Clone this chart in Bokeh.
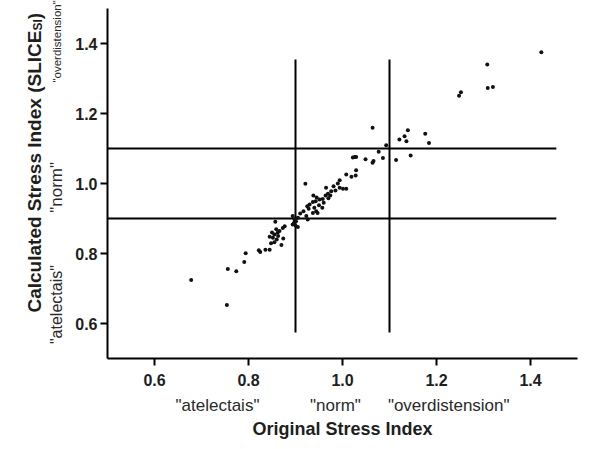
import numpy as np
from bokeh.plotting import figure
from bokeh.layouts import row
from bokeh.models import FixedTicker, Range1d, LinearAxis
from bokeh.core.properties import value
from bokeh.embed import file_html
from bokeh.resources import INLINE

# ---- data ----
x_orig = [0.678, 0.754, 0.756, 0.774, 0.791, 0.794, 0.822, 0.825, 0.836, 0.845, 0.870,
          0.848, 0.855, 0.860, 0.852, 0.845, 0.855, 0.862, 0.859, 0.866, 0.873, 0.877, 0.857, 0.874, 0.850, 0.863,
          0.894, 0.898, 0.901, 0.905, 0.900, 0.905, 0.894, 0.910, 0.917, 0.923, 0.926, 0.897,
          0.921,
          0.930, 0.937, 0.940, 0.944, 0.937, 0.947, 0.957, 0.938, 0.943, 0.951, 0.958, 0.964, 0.969, 0.974,
          0.965, 0.976, 0.981, 0.994, 1.001, 1.008, 0.994, 1.008, 1.019, 1.028, 1.029, 0.928, 0.950, 0.960,
          0.985, 0.925, 0.945, 0.970, 0.990,
          1.026, 1.022, 1.029, 1.049, 1.066, 1.064, 1.077, 1.086, 1.093, 1.064, 1.114, 1.145, 1.121, 1.132,
          1.136, 1.139, 1.176, 1.184,
          1.248, 1.252, 1.308, 1.309, 1.320, 1.423]
y_calc = [0.724, 0.653, 0.756, 0.749, 0.776, 0.801, 0.809, 0.804, 0.811, 0.811, 0.824,
          0.829, 0.832, 0.840, 0.845, 0.848, 0.854, 0.859, 0.869, 0.864, 0.873, 0.878, 0.891, 0.843, 0.860, 0.850,
          0.907, 0.897, 0.892, 0.902, 0.880, 0.876, 0.883, 0.914, 0.921, 0.907, 0.897, 0.888,
          0.999,
          0.940, 0.947, 0.931, 0.921, 0.916, 0.916, 0.931, 0.966, 0.949, 0.954, 0.956, 0.966, 0.971, 0.966,
          0.988, 0.978, 0.992, 0.988, 0.985, 0.985, 1.009, 1.026, 1.019, 1.023, 1.038, 0.928, 0.938, 0.945,
          0.980, 0.935, 0.960, 0.958, 1.000,
          1.076, 1.074, 1.076, 1.069, 1.064, 1.059, 1.091, 1.073, 1.109, 1.159, 1.067, 1.080, 1.126, 1.135,
          1.121, 1.152, 1.142, 1.116,
          1.251, 1.261, 1.340, 1.273, 1.276, 1.375]

tick_values = [0.6, 0.8, 1.0, 1.2, 1.4]
tick_labels = ["0.6", "0.8", "1.0", "1.2", "1.4"]

thresholds = [0.9, 1.1]
vline_extent = [0.574, 1.354]   # y extent of vertical threshold lines
hline_extent = [0.5, 1.455]     # x extent of horizontal threshold lines

categories = ['"atelectais"', '"norm"', '"overdistension"']
x_category_pos = [0.734, 0.985, 1.226]
y_category_pos = [0.654, 0.989, 1.406]

x_title = "Original Stress Index"
y_title_parts = ["Calculated Stress Index (SLICE", "SI", ")"]

FONT = "Liberation Sans"
INK = "#1e1e1e"
CAT_INK = "#2a2a2a"

W_TOTAL, H_TOTAL = 592, 441
W_SIDE = 68          # width of the left strip holding the rotated y texts
BORDER_BOTTOM = 83
Y_RANGE = (0.5, 1.5 + 8 / 350)   # a little headroom above 1.5 for the texts

# ---------------- left strip: rotated y title and y category labels -------------
side = figure(width=W_SIDE, height=H_TOTAL, x_range=Range1d(1, W_SIDE + 1),
              y_range=Range1d(*Y_RANGE),
              output_backend="svg", toolbar_location=None,
              x_axis_location=None, y_axis_location=None,
              min_border_left=0, min_border_right=0, min_border_top=0,
              min_border_bottom=BORDER_BOTTOM)
side.outline_line_color = None
side.grid.visible = False

# y title: main text, subscript, closing parenthesis (x in page pixels)
side.text(x=[35, 38.5, 35], y=[0.6314, 1.4371, 1.4694], text=y_title_parts,
          angle=np.pi / 2, text_align="left", text_baseline="alphabetic",
          text_font=value(FONT), text_font_style="bold",
          text_font_size=["19px", "12px", "19px"], text_color=INK)

# y category labels
side.text(x=[57] * 3, y=y_category_pos, text=categories,
          angle=np.pi / 2, text_align="center", text_baseline="middle",
          text_font=value(FONT), text_font_style="normal",
          text_font_size=["16px", "17px", "11.5px"], text_color=CAT_INK)

# ---------------- main plot -------------
p = figure(width=W_TOTAL - W_SIDE, height=H_TOTAL,
           x_range=Range1d(0.5, 1.5), y_range=Range1d(*Y_RANGE),
           output_backend="svg", toolbar_location=None,
           min_border_left=107 - W_SIDE, min_border_right=15,
           min_border_top=0, min_border_bottom=BORDER_BOTTOM)
p.outline_line_color = None
p.grid.visible = False

# threshold lines
p.segment(x0=thresholds, y0=[vline_extent[0]] * 2, x1=thresholds, y1=[vline_extent[1]] * 2,
          line_color="black", line_width=2)
p.segment(x0=[hline_extent[0]] * 2, y0=thresholds, x1=[hline_extent[1]] * 2, y1=thresholds,
          line_color="black", line_width=2)

# points
p.scatter(x_orig, y_calc, size=4, color="#111111", line_width=0)


def style_num_axis(ax, standoff):
    ax.ticker = FixedTicker(ticks=tick_values)
    ax.major_label_overrides = dict(zip(tick_values, tick_labels))
    ax.axis_line_width = 2
    ax.axis_line_color = "black"
    ax.major_tick_line_width = 2
    ax.major_tick_line_color = "black"
    ax.major_tick_in = 0
    ax.major_tick_out = 7
    ax.minor_tick_line_color = None
    ax.major_label_standoff = standoff
    ax.major_label_text_font = FONT
    ax.major_label_text_font_style = "bold"
    ax.major_label_text_font_size = "16px"
    ax.major_label_text_color = INK


style_num_axis(p.xaxis[0], 8)
style_num_axis(p.yaxis[0], 3)
p.yaxis[0].bounds = (0.5, 1.5)

# x category labels + x title on a second bottom axis
xcat = LinearAxis(ticker=FixedTicker(ticks=x_category_pos),
                  major_label_overrides=dict(zip(x_category_pos, categories)))
xcat.axis_line_color = None
xcat.major_tick_line_color = None
xcat.minor_tick_line_color = None
xcat.major_tick_out = 0
xcat.major_tick_in = 0
xcat.major_label_text_font = FONT
xcat.major_label_text_font_style = "normal"
xcat.major_label_text_color = CAT_INK
xcat.major_label_standoff = 7
xcat.major_label_text_font_size = "17px"
xcat.axis_label = x_title
xcat.axis_label_text_font = FONT
xcat.axis_label_text_font_style = "bold"
xcat.axis_label_text_font_size = "18px"
xcat.axis_label_text_color = INK
xcat.axis_label_standoff = 1
p.add_layout(xcat, "below")

layout = row(side, p, spacing=0)
open("out.html", "w").write(file_html(layout, INLINE))
